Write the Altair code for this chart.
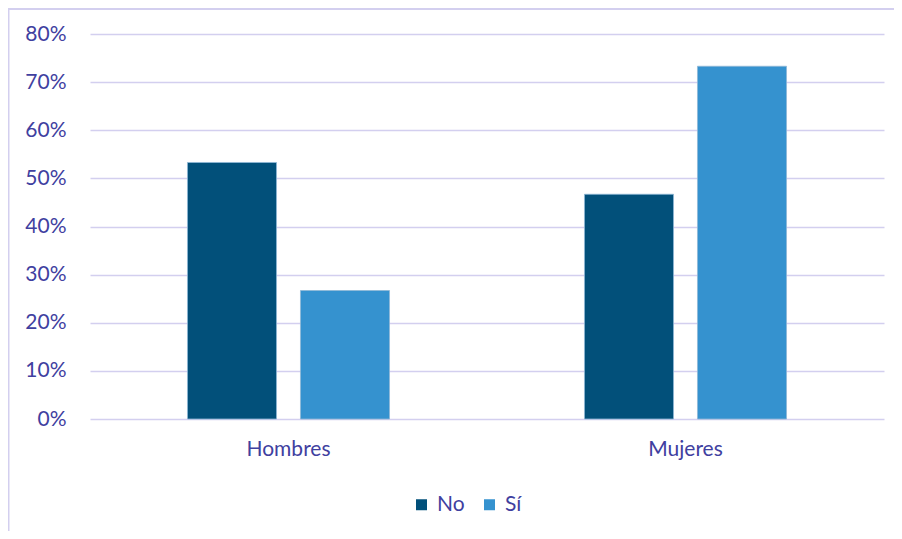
import altair as alt
import pandas as pd

categories = ["Hombres", "Hombres", "Mujeres", "Mujeres"]
series = ["No", "Sí", "No", "Sí"]
values = [0.533, 0.267, 0.467, 0.733]
y_ticks = [0, 0.1, 0.2, 0.3, 0.4, 0.5, 0.6, 0.7, 0.8]

df = pd.DataFrame({"grupo": categories, "respuesta": series, "valor": values})

TEXT = "#4040A0"
GRID = "#D3CFEF"
FONT = "Lato"

bars = alt.Chart(df).mark_bar(stroke="#8FB8D6", strokeWidth=0.8).encode(
    x=alt.X("grupo:N", title=None,
            scale=alt.Scale(paddingInner=0, paddingOuter=0),
            axis=alt.Axis(labelAngle=0, labelFont=FONT, labelFontSize=21,
                          labelColor=TEXT, labelPadding=19, ticks=False,
                          domain=False, grid=False)),
    xOffset=alt.XOffset("respuesta:N", scale=alt.Scale(paddingInner=0.212, paddingOuter=0.8625)),
    y=alt.Y("valor:Q", title=None,
            scale=alt.Scale(domain=[0, 0.8], nice=False),
            axis=alt.Axis(values=y_ticks, format=".0%", labelFont=FONT,
                          labelFontSize=21, labelColor=TEXT, labelPadding=24,
                          ticks=False, domain=False, gridColor=GRID,
                          gridWidth=1.5)),
    color=alt.Color("respuesta:N", title=None,
                    scale=alt.Scale(domain=["No", "Sí"], range=["#02507A", "#3592CF"]),
                    legend=alt.Legend(orient="none", direction="horizontal",
                                      legendX=321, legendY=460,
                                      symbolType="square", symbolSize=121,
                                      symbolStrokeWidth=0, labelFont=FONT,
                                      labelFontSize=21, labelColor=TEXT,
                                      labelOffset=5, columnPadding=14)),
)

one = pd.DataFrame({"a": [0]})
border_left = alt.Chart(one).mark_rule(stroke=GRID, strokeWidth=2, clip=False).encode(
    x=alt.value(-81.5), y=alt.value(-25), y2=alt.value(600))
border_top = alt.Chart(one).mark_rule(stroke=GRID, strokeWidth=2, clip=False).encode(
    x=alt.value(-82.5), x2=alt.value(2000), y=alt.value(-25))

chart = alt.layer(border_left, border_top, bars).properties(
    width=794, height=385,
    padding={"left": 82, "top": 26, "right": 10, "bottom": 112},
    autosize=alt.AutoSizeParams(type="none"),
).configure_view(stroke=None)

chart.save("out.html", embed_options={"renderer": "svg", "actions": False})
